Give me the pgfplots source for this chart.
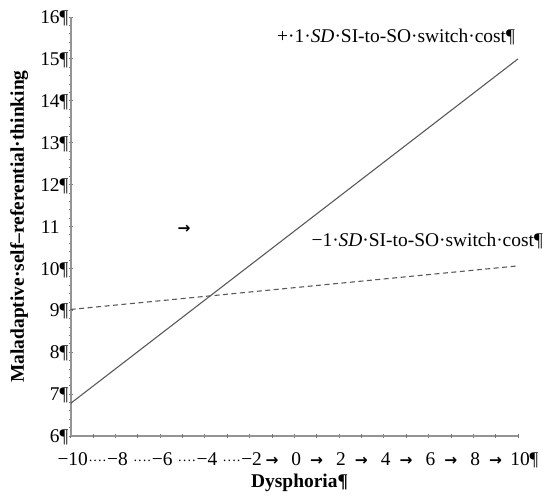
\documentclass[border=0pt]{standalone}
\usepackage{fontspec}
\setmainfont{Liberation Serif}
\newfontfamily\arrowfont{DejaVu Sans}
\usepackage{pgfplots}
\pgfplotsset{compat=1.18}

\newcommand{\fs}{\fontsize{19.5}{22}\selectfont}
% Word-style tab arrow and dotted leader
\newcommand{\tabarrow}{{\arrowfont\bfseries\fontsize{15.5}{15.5}\selectfont →}}
\newcommand{\lead}{\kern5bp{\fontsize{14}{14}\selectfont ····}}

\begin{document}
\begin{tikzpicture}
\begin{axis}[
    name=ax, at={(0,0)}, anchor=south west,
    scale only axis, width=447.3bp, height=419bp,
    xmin=-10, xmax=10, ymin=6, ymax=16,
    axis x line=bottom, axis y line=left,
    axis line style={-, line width=2.2bp, black!42},
    clip=false,
    xtick={-10,-8,...,10},
    xticklabels={−10,−8,−6,−4,−2,0,2,4,6,8,10\rlap{¶}},
    extra x ticks={-9,-7,...,9},
    extra x tick labels={\lead,\lead,\lead,\lead,\kern-4bp\tabarrow,\kern-4bp\tabarrow,\kern-4bp\tabarrow,\kern-4bp\tabarrow,\kern-4bp\tabarrow,\kern-4bp\tabarrow},
    extra tick style={grid=none},
    ytick={6,...,16},
    yticklabels={6¶,7¶,8¶,9¶,10¶,11\phantom{¶},12¶,13¶,14¶,15¶,16¶},
    minor y tick num=4,
    tick style={black!55, line width=0.8bp},
    tick align=center,
    major tick length=4bp, minor tick length=3bp,
    xticklabel style={font=\fs, anchor=base, xshift=2bp, yshift=-27bp, inner sep=0pt},
    yticklabel style={font=\fs, anchor=base east, yshift=-6.7bp, inner sep=0pt},
]
\addplot[black!65, line width=1.1bp] coordinates {(-10,6.78) (10,15.0)};
\addplot[black!65, line width=1.1bp, dash pattern=on 5bp off 3.5bp] coordinates {(-10,9.02) (10,10.06)};

\node[font=\fs, anchor=base east, inner sep=0pt] at (axis cs:9.87,15.38) {+·1·\textit{SD}·SI-to-SO·switch·cost¶};
\node[font=\fs, anchor=base east, inner sep=0pt] at (axis cs:11.12,10.53) {−1·\textit{SD}·SI-to-SO·switch·cost¶};
\node[inner sep=0pt] at (axis cs:-4.93,10.94) {\tabarrow};

\node[font=\fs\bfseries, anchor=base, inner sep=0pt, yshift=-51bp] at (rel axis cs:0.5,0) {Dysphoria\rlap{¶}};
\node[font=\fs\bfseries, inner sep=0pt, xshift=-46.7bp, rotate=90, anchor=base] at (rel axis cs:0,0.5) {Maladaptive·self–referential·thinking};
\end{axis}
\pgfresetboundingbox
\path[use as bounding box] (-70.7bp,-60bp) rectangle (473.3bp,436bp);
\end{tikzpicture}
\end{document}
